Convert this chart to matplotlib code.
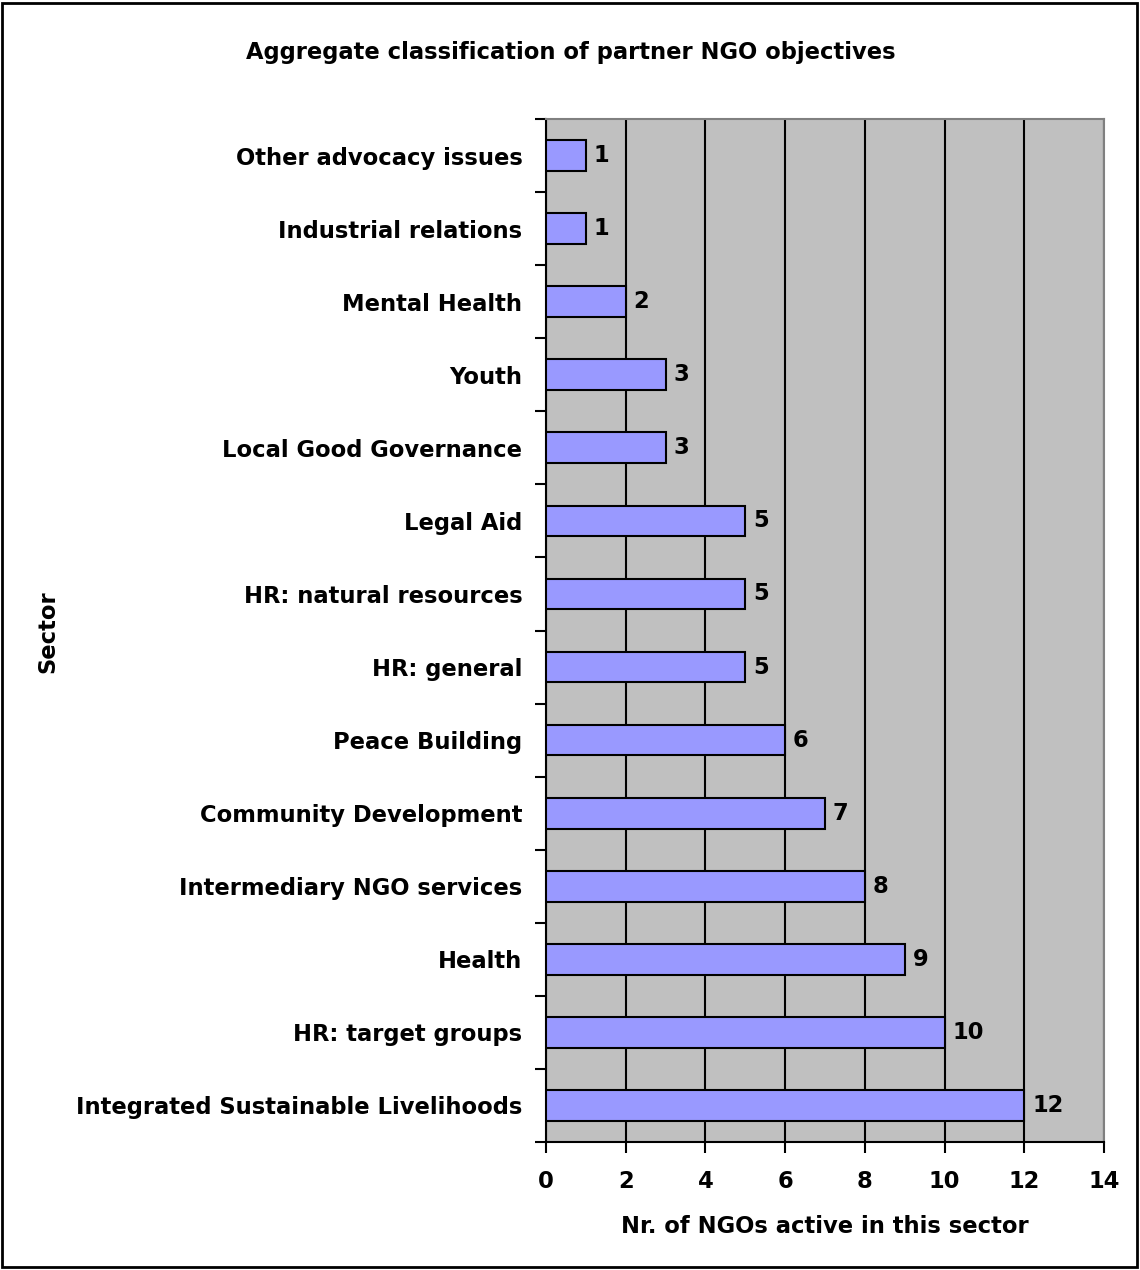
import matplotlib.pyplot as plt
from matplotlib.patches import Rectangle
import numpy as np

plt.rcParams['font.family'] = 'DejaVu Sans'
plt.rcParams['font.weight'] = 'bold'

# sectors listed top to bottom, with NGO counts
sectors = [
    "Other advocacy issues", "Industrial relations", "Mental Health", "Youth",
    "Local Good Governance", "Legal Aid", "HR: natural resources", "HR: general",
    "Peace Building", "Community Development", "Intermediary NGO services",
    "Health", "HR: target groups", "Integrated Sustainable Livelihoods",
]
counts = [1, 1, 2, 3, 3, 5, 5, 5, 6, 7, 8, 9, 10, 12]
x_ticks = [0, 2, 4, 6, 8, 10, 12, 14]

FS = 16.3

fig = plt.figure(figsize=(11.4, 12.7), dpi=100)
ax = fig.add_axes([546/1140, 1 - 1142/1270, 558/1140, 1023/1270])
ax.set_facecolor('#c0c0c0')

n = len(sectors)
y = np.arange(n)[::-1]  # first sector on top
bars = ax.barh(y, counts, height=0.42, color='#9999ff', edgecolor='black',
               linewidth=1.5, zorder=3)
for yi, c in zip(y, counts):
    ax.text(c + 0.2, yi, str(c), va='center', ha='left', fontsize=FS,
            fontweight='bold', zorder=4)

ax.set_xlim(0, 14)
ax.set_ylim(-0.5, n - 0.5)
ax.set_xticks(x_ticks)
ax.set_xticklabels([str(t) for t in x_ticks], fontsize=FS, fontweight='bold')
ax.xaxis.grid(True, color='black', linewidth=1.5, zorder=1)
ax.set_axisbelow(True)

# category labels centred on bars, tick marks between categories
ax.set_yticks(y)
ax.set_yticklabels(sectors, fontsize=FS, fontweight='bold')
ax.tick_params(axis='y', which='major', length=0, pad=17)
ax.set_yticks(np.arange(-0.5, n, 1), minor=True)
ax.tick_params(axis='y', which='minor', length=8, width=1.5, direction='out')
ax.tick_params(axis='x', length=8, width=1.5, direction='out', pad=12)

for side in ['top', 'right']:
    ax.spines[side].set_color('#808080')
    ax.spines[side].set_linewidth(1.5)
for side in ['left', 'bottom']:
    ax.spines[side].set_color('black')
    ax.spines[side].set_linewidth(1.5)

ax.set_xlabel('Nr. of NGOs active in this sector', fontsize=FS,
              fontweight='bold', labelpad=16)
fig.text(48/1140, 1 - 632/1270, 'Sector', rotation=90, ha='center',
         va='center', fontsize=FS, fontweight='bold')
fig.text(571/1140, 1 - 52/1270, 'Aggregate classification of partner NGO objectives',
         ha='center', va='center', fontsize=FS, fontweight='bold')

# outer frame around the whole chart
fig.patches.append(Rectangle((0.002, 0.002), 0.995, 0.996, transform=fig.transFigure,
                             fill=False, edgecolor='black', linewidth=2))

fig.savefig('out.png', dpi=100)
